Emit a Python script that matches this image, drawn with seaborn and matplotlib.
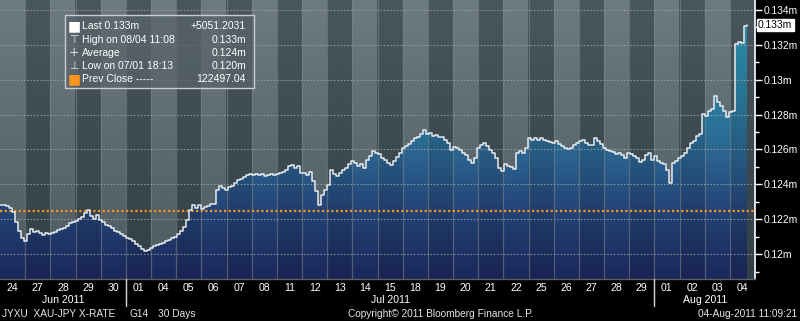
import numpy as np
import pandas as pd
import matplotlib
matplotlib.use("Agg")
import matplotlib.pyplot as plt
import matplotlib.ticker as mticker
import matplotlib.transforms as mtransforms
from matplotlib.colors import LinearSegmentedColormap, to_rgb
from matplotlib.patches import Rectangle
import seaborn as sns

# ---------------- data ----------------
day_labels = ["24", "27", "28", "29", "30",
              "01", "04", "05", "06", "07", "08", "11", "12", "13", "14", "15",
              "18", "19", "20", "21", "22", "25", "26", "27", "28", "29",
              "01", "02", "03", "04"]
month_labels = ["Jun 2011", "Jul 2011", "Aug 2011"]
month_start = [0, 5, 26]
month_end = [5, 26, 30]

# XAU-JPY intraday samples (yen), ~8.4 samples per trading day
price_yen = [
    122800, 122800, 122743, 122629, 122400, 121829, 121314, 120914, 120743, 121143,
    121429, 121257, 121314, 121200, 121086, 121200, 121143, 121200, 121257, 121371,
    121429, 121486, 121600, 121771, 121829, 121886, 122000, 122114, 122343, 122514,
    122171, 122000, 122229, 121943, 121829, 121657, 121600, 121486, 121314, 121257,
    121143, 121029, 120914, 120857, 120743, 120571, 120457, 120286, 120171, 120229,
    120343, 120457, 120514, 120571, 120629, 120743, 120800, 120914, 120971, 121143,
    121314, 121543, 121943,
    122514, 122800, 122629, 122800, 122571, 122686, 122743, 122857, 122857, 123657,
    123886, 123771, 123657, 123829, 123886, 124057, 124229, 124286, 124400, 124514,
    124571, 124514, 124571, 124514, 124571, 124457, 124514, 124571, 124514, 124571,
    124629, 124686, 124800, 125029, 125086, 124914, 125029, 124629, 124629, 124514,
    124686, 124171, 123600, 122800, 123371, 123657, 123943, 124800, 124571, 124457,
    124629, 124800, 124914, 125143, 125314, 125200, 125029, 125143, 124914, 125371,
    125600, 125886, 125771, 125714, 125486, 125371, 125200, 125086, 125314, 125543,
    125771, 126057, 126171, 126286, 126457, 126629, 126743, 126914, 127143, 126914,
    126971, 126800, 126857, 126686, 126743, 126514, 126343, 125943, 126114, 126057,
    125943, 125771, 125657, 125371, 125200, 125486, 126057, 126229, 126343, 126171,
    125943, 125771, 125486, 124914, 124743, 125143, 125029, 124971, 124857, 125771,
    125886, 125771, 126057, 126629, 126571, 126629, 126514, 126629, 126571, 126457,
    126400, 126343, 126457, 126286, 126171, 126057, 126000, 126057, 126229, 126343,
    126457, 126514, 126343, 126229, 126229, 126629, 126457, 126286, 126057, 125943,
    125886, 125829, 125714, 125771, 125657, 125486, 125771, 125714, 125600, 125486,
    125257, 125371, 125657, 125771, 125371, 125600, 125314, 125200, 125143, 124800,
    124057, 125200, 125314, 125486, 125600, 125771, 126057, 126343, 126457, 126800,
    126914, 128057, 127943, 128229, 128343, 129086, 128743, 128514, 128229, 127886,
    128171, 128229, 132057, 132171, 132114, 133086, 133143,
]
prev_close = 122497.04

legend_left = ["Last 0.133m", "High on 08/04 11:08", "Average", "Low on 07/01 18:13", "Prev Close -----"]
legend_right = ["+5051.2031", "0.133m", "0.124m", "0.120m", "122497.04"]
last_label = "0.133m"

# ---------------- layout ----------------
W, H = 800, 321
SAMPLES_PER_DAY = 25.17 / 3.0
N_DAYS = len(day_labels)
YMIN, YMAX = 118571, 134571

sns.set_theme(style="dark")
plt.rcParams["font.family"] = ["Liberation Sans", "DejaVu Sans"]

fig = plt.figure(figsize=(W / 100, H / 100), dpi=100, facecolor="black")
ax = fig.add_axes([0, 1 - 279 / H, 755 / W, 279 / H])
ax.set_facecolor("#3c484f")

x = np.arange(len(price_yen)) / SAMPLES_PER_DAY
df = pd.DataFrame({"day": x, "price": price_yen})

# background: alternating day columns with vertical gradient
nrow = 200
t = np.linspace(0, 1, nrow)[:, None]  # 0 bottom -> 1 top
light_b, light_t = np.array(to_rgb("#4e5a61")), np.array(to_rgb("#6e7a81"))
dark_b, dark_t = np.array(to_rgb("#323f47")), np.array(to_rgb("#4a565d"))
bg = np.zeros((nrow, N_DAYS, 3))
for k in range(N_DAYS):
    if k % 2 == 0:
        bg[:, k, :] = light_b + (light_t - light_b) * t
    else:
        bg[:, k, :] = dark_b + (dark_t - dark_b) * t
ax.imshow(bg, extent=[0, N_DAYS, YMIN, YMAX], origin="lower", aspect="auto",
          interpolation="nearest", zorder=0)

# gradient fill under the price
fill_cmap = LinearSegmentedColormap.from_list("bbg", [
    (0.00, "#1b285c"), (0.15, "#20386b"), (0.28, "#26497b"), (0.42, "#2a608d"),
    (0.55, "#2b7298"), (0.68, "#2c82a4"), (0.82, "#2e92b2"), (1.00, "#31a4c2")])
vals = np.linspace(0, 1, nrow)
col = fill_cmap(vals)[:, :3]
fg = np.zeros((nrow, N_DAYS, 3))
for k in range(N_DAYS):
    fg[:, k, :] = col * (1.0 if k % 2 == 0 else 0.9)
poly = ax.fill_between(df["day"], df["price"], YMIN, step="post", color="none", lw=0)
im = ax.imshow(fg, extent=[0, N_DAYS, YMIN, YMAX], origin="lower", aspect="auto",
               interpolation="nearest", zorder=1)
im.set_clip_path(poly.get_paths()[0], transform=poly.get_transform())

# day separators
for k in range(1, N_DAYS):
    ax.axvline(k, color="#7d868c", lw=0.9, alpha=0.55, zorder=1.5)

# grid
for gv in np.arange(120000, 134001, 2000):
    ax.axhline(gv, color="#9aa2a8", lw=0.8, ls=(0, (1.5, 1.5)), alpha=0.8, zorder=2)

# previous close
ax.axhline(prev_close, color="#f7941d", lw=1.6, ls=(0, (1, 1.1)), zorder=3.5)

# price line
sns.lineplot(data=df, x="day", y="price", ax=ax, color="#e6ebee", lw=1.1,
             drawstyle="steps-post", zorder=4, estimator=None, sort=False)

ax.set_xlim(0, N_DAYS)
ax.set_ylim(YMIN, YMAX)
ax.set_xlabel("")
ax.set_ylabel("")
ax.grid(False)

# right axis
ax.yaxis.tick_right()
ax.yaxis.set_major_locator(mticker.MultipleLocator(2000))
ax.yaxis.set_minor_locator(mticker.MultipleLocator(1000))
ax.yaxis.set_major_formatter(mticker.FuncFormatter(
    lambda v, _: f"{v / 1e6:.3f}".rstrip("0") + "m"))
ax.tick_params(axis="y", which="major", direction="out", length=5, width=1,
               color="white", labelcolor="white", labelsize=7.4, pad=1.5, right=True, left=False)
ax.tick_params(axis="y", which="minor", direction="out", length=3, width=1,
               color="white", right=True, left=False)

# bottom axis
ax.set_xticks(np.arange(N_DAYS) + 0.5)
ax.set_xticklabels(day_labels)
ax.tick_params(axis="x", length=0, labelcolor="white", labelsize=7.6, pad=3)

for s in ["top", "left"]:
    ax.spines[s].set_visible(False)
ax.spines["right"].set_color("white")
ax.spines["right"].set_linewidth(1.2)
ax.spines["bottom"].set_color("#5a6066")
ax.spines["bottom"].set_linewidth(1)

# month labels and separators
tb = mtransforms.blended_transform_factory(ax.transData, ax.transAxes)
for lab, a, b in zip(month_labels, month_start, month_end):
    ax.text((a + b) / 2, -(300 - 279) / 279, lab, transform=tb, ha="center", va="center",
            color="white", fontsize=7.6)
for a in month_start[1:]:
    ax.plot([a, a], [0, -(306 - 279) / 279], transform=tb, color="#d8d8d8", lw=1,
            clip_on=False, zorder=5)

# last value tag
ty = mtransforms.blended_transform_factory(ax.transAxes, ax.transData)
ax.text(1.004, price_yen[-1], last_label, transform=ty, ha="left", va="center",
        color="black", fontsize=7.4,
        bbox=dict(boxstyle="square,pad=0.12", fc="white", ec="white"), zorder=6)

# legend box
def fx(px):
    return px / W


def fy(py):
    return 1 - py / H


fig.patches.append(Rectangle((fx(65), fy(88)), fx(254) - fx(65), fy(15) - fy(88),
                             transform=fig.transFigure, facecolor="#58636a", alpha=0.75,
                             edgecolor="none", zorder=5))
fig.patches.append(Rectangle((fx(65), fy(88)), fx(254) - fx(65), fy(15) - fy(88),
                             transform=fig.transFigure, facecolor="none",
                             edgecolor="#c9cdd0", lw=1, zorder=6))
row_y = [26, 40, 53, 66, 79]
icons = ["■", "⊤", "+", "⊥", "■"]
icon_colors = ["white", "#e0e0e0", "#e0e0e0", "#e0e0e0", "#f7941d"]
icon_sizes = [10, 8, 9, 8, 10]
for ry, ltxt, rtxt, ic, icc, isz in zip(row_y, legend_left, legend_right, icons, icon_colors, icon_sizes):
    fig.text(fx(74), fy(ry), ic, color=icc, fontsize=isz, ha="center", va="center",
             family=["DejaVu Sans"], zorder=7)
    fig.text(fx(82), fy(ry), ltxt, color="white", fontsize=7.5, ha="left", va="center", zorder=7)
    fig.text(fx(246), fy(ry), rtxt, color="white", fontsize=7.5, ha="right", va="center", zorder=7)

# footer
fy_foot = fy(314)
fig.text(fx(2), fy_foot, "JYXU  XAU-JPY X-RATE", color="#e6e6e6", fontsize=7.3, ha="left", va="center")
fig.text(fx(130), fy_foot, "G14", color="#e6e6e6", fontsize=7.3, ha="left", va="center")
fig.text(fx(158), fy_foot, "30 Days", color="#e6e6e6", fontsize=7.3, ha="left", va="center")
fig.text(fx(348), fy_foot, "Copyright© 2011 Bloomberg Finance L.P.", color="#e6e6e6",
         fontsize=7.3, ha="left", va="center")
fig.text(fx(797), fy_foot, "04-Aug-2011 11:09:21", color="#e6e6e6", fontsize=7.3,
         ha="right", va="center")

fig.savefig("out.png", dpi=100, facecolor="black")
